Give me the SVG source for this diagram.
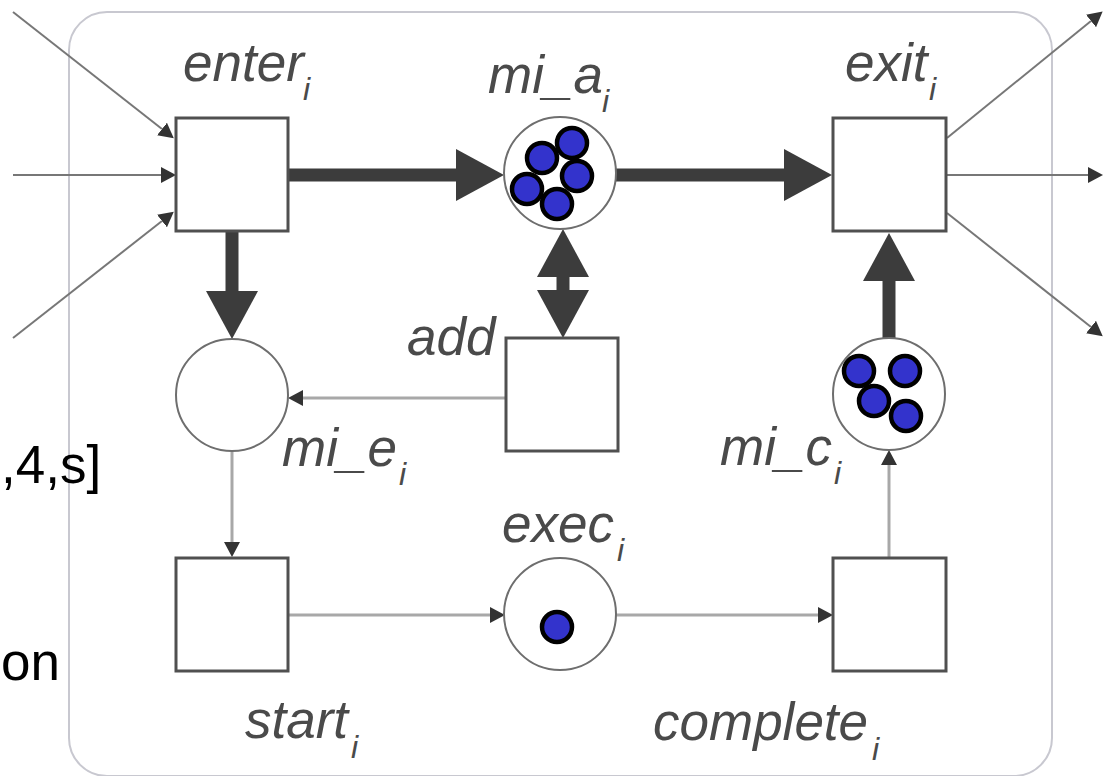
<svg xmlns="http://www.w3.org/2000/svg" width="1110" height="776" viewBox="0 0 1110 776">
<defs>
<style>
.frame{fill:none;stroke:#c8c8d0;stroke-width:2}
.box{fill:#fff;stroke:#505050;stroke-width:3}
.place{fill:#fff;stroke:#6e6e6e;stroke-width:2}
.tok{fill:#3333cc;stroke:#000;stroke-width:4.5}
.lbl{font-family:"Liberation Sans",Arial,sans-serif;font-style:italic;font-size:53px;fill:#4a4a4a}
.sub{font-size:32px}
.ext{font-family:"Liberation Sans",Arial,sans-serif;font-size:53px;fill:#000}
.thick{fill:none;stroke:#3c3c3c;stroke-width:13}
.thin{fill:none;stroke:#a8a8a8;stroke-width:3}
.ext-arc{fill:none;stroke:#777;stroke-width:2}
</style>
<marker id="ah-thick" markerUnits="userSpaceOnUse" markerWidth="48" markerHeight="52" refX="0" refY="26" orient="auto-start-reverse">
<path d="M0,0 L48,26 L0,52 z" fill="#3c3c3c"/>
</marker>
<marker id="ah-thin" markerUnits="userSpaceOnUse" markerWidth="15" markerHeight="16" refX="0" refY="8" orient="auto">
<path d="M0,0 L15,8 L0,16 z" fill="#333"/>
</marker>
</defs>
<rect width="1110" height="776" fill="#fff"/>
<rect class="frame" x="69" y="12" width="983" height="764" rx="38"/>

<g id="side-text">
<text class="ext" x="1" y="483">,4,s]</text>
<text class="ext" x="1" y="680">on</text>
</g>

<g id="connectors">
<line class="ext-arc" x1="13" y1="12" x2="162" y2="129" marker-end="url(#ah-thin)"/>
<line class="ext-arc" x1="13" y1="175" x2="161" y2="175" marker-end="url(#ah-thin)"/>
<line class="ext-arc" x1="13" y1="338" x2="162" y2="221" marker-end="url(#ah-thin)"/>
<line class="ext-arc" x1="947" y1="138" x2="1091" y2="21" marker-end="url(#ah-thin)"/>
<line class="ext-arc" x1="947" y1="175" x2="1088" y2="175" marker-end="url(#ah-thin)"/>
<line class="ext-arc" x1="947" y1="213" x2="1091" y2="327" marker-end="url(#ah-thin)"/>
<line class="thick" x1="288" y1="175" x2="456" y2="175" marker-end="url(#ah-thick)"/>
<line class="thick" x1="615" y1="175" x2="784" y2="175" marker-end="url(#ah-thick)"/>
<line class="thick" x1="232" y1="231" x2="232" y2="291" marker-end="url(#ah-thick)"/>
<line class="thick" x1="563" y1="277" x2="563" y2="290" marker-start="url(#ah-thick)" marker-end="url(#ah-thick)"/>
<line class="thick" x1="889" y1="339" x2="889" y2="281" marker-end="url(#ah-thick)"/>
<line class="thin" x1="506" y1="398" x2="303" y2="398" marker-end="url(#ah-thin)"/>
<line class="thin" x1="232" y1="452" x2="232" y2="542" marker-end="url(#ah-thin)"/>
<line class="thin" x1="289" y1="615" x2="490" y2="615" marker-end="url(#ah-thin)"/>
<line class="thin" x1="615" y1="615" x2="818" y2="615" marker-end="url(#ah-thin)"/>
<line class="thin" x1="889" y1="558" x2="889" y2="465" marker-end="url(#ah-thin)"/>
</g>

<g id="enter">
<rect class="box" x="176" y="118" width="112" height="113"/>
<text class="lbl" x="183" y="81">enter<tspan class="sub" x="303" y="100">i</tspan></text>
</g>

<g id="mi_a">
<circle class="place" cx="560" cy="173" r="56"/>
<circle class="tok" cx="542" cy="158" r="15"/>
<circle class="tok" cx="572" cy="143" r="15"/>
<circle class="tok" cx="577" cy="176" r="15"/>
<circle class="tok" cx="527" cy="189" r="15"/>
<circle class="tok" cx="557" cy="204" r="15"/>
<text class="lbl" x="488" y="93">mi_a<tspan class="sub" x="602" y="112">i</tspan></text>
</g>

<g id="exit">
<rect class="box" x="833" y="118" width="113" height="113"/>
<text class="lbl" x="845" y="81">exit<tspan class="sub" x="929" y="100">i</tspan></text>
</g>

<g id="mi_e">
<circle class="place" cx="232" cy="395" r="56"/>
<text class="lbl" x="282" y="466">mi_e<tspan class="sub" x="399" y="485">i</tspan></text>
</g>

<g id="add">
<rect class="box" x="506" y="338" width="112" height="113"/>
<text class="lbl" x="407" y="355">add</text>
</g>

<g id="mi_c">
<circle class="place" cx="889" cy="394" r="56"/>
<circle class="tok" cx="859" cy="371" r="15"/>
<circle class="tok" cx="905" cy="371" r="15"/>
<circle class="tok" cx="874" cy="401" r="15"/>
<circle class="tok" cx="906" cy="416" r="15"/>
<text class="lbl" x="720" y="465">mi_c<tspan class="sub" x="834" y="484">i</tspan></text>
</g>

<g id="start">
<rect class="box" x="176" y="558" width="112" height="113"/>
<text class="lbl" x="245" y="738">start<tspan class="sub" x="351" y="758">i</tspan></text>
</g>

<g id="exec">
<circle class="place" cx="560" cy="614" r="56"/>
<circle class="tok" cx="557" cy="627" r="15"/>
<text class="lbl" x="502" y="542">exec<tspan class="sub" x="617" y="561">i</tspan></text>
</g>

<g id="complete">
<rect class="box" x="833" y="558" width="113" height="113"/>
<text class="lbl" x="653" y="740">complete<tspan class="sub" x="872" y="760">i</tspan></text>
</g>
</svg>
